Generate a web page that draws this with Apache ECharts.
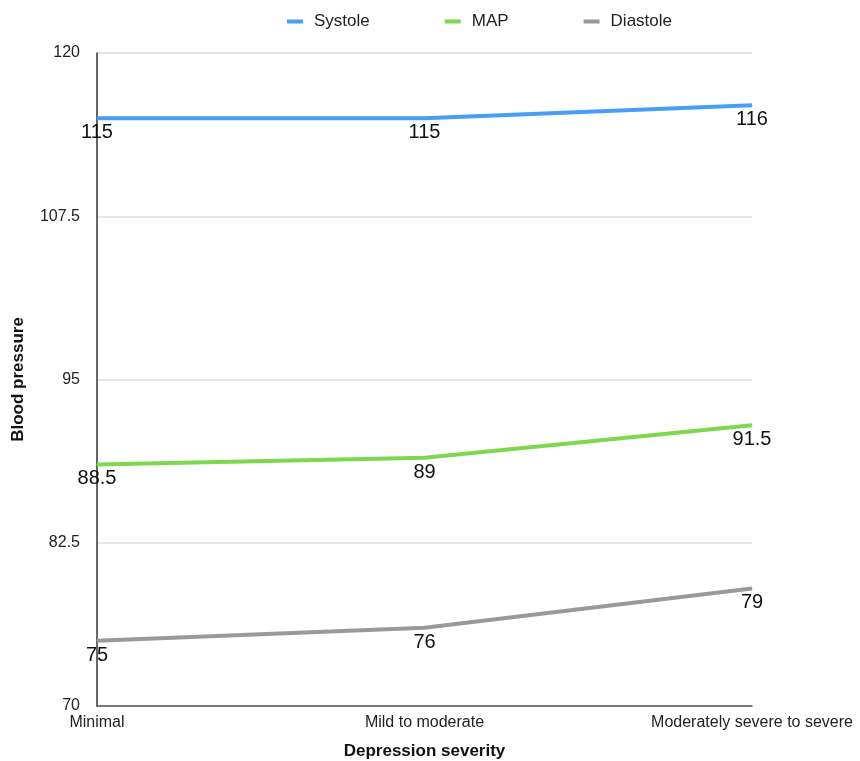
<!DOCTYPE html>
<html>
<head>
<meta charset="utf-8">
<script src="https://cdn.jsdelivr.net/npm/echarts@6/dist/echarts.min.js"></script>
<style>html,body{margin:0;padding:0;background:#fff}#c{width:860px;height:761px}</style>
</head>
<body>
<div id="c"></div>
<script>
var categories = ['Minimal', 'Mild to moderate', 'Moderately severe to severe'];
var systole = [115, 115, 116];
var map = [88.5, 89, 91.5];
var diastole = [75, 76, 79];
var yTicks = [70, 82.5, 95, 107.5, 120];

var FONT = '"Liberation Sans", Arial, Helvetica, sans-serif';
var chart = echarts.init(document.getElementById('c'), null, {renderer: 'canvas'});
var iconPath = 'path://M0,0 L16,0 L16,4 L0,4 Z';
function mk(name, data, color) {
  return {
    name: name, type: 'line', data: data,
    symbol: 'circle', symbolSize: 1, showSymbol: true,
    lineStyle: {color: color, width: 4},
    itemStyle: {color: color},
    label: {show: true, position: 'bottom', distance: 4, color: '#111', fontSize: 20, fontFamily: FONT},
    labelLayout: {hideOverlap: false},
    silent: true
  };
}
chart.setOption({
  animation: false,
  textStyle: {fontFamily: FONT},
  legend: {
    top: 8, left: 282, itemGap: 75, itemWidth: 16, itemHeight: 4,
    textStyle: {fontSize: 17, color: '#222', fontFamily: FONT, padding: [0, 0, 0, 6]},
    data: [{name: 'Systole', icon: iconPath}, {name: 'MAP', icon: iconPath}, {name: 'Diastole', icon: iconPath}]
  },
  grid: {left: 97, right: 108, top: 53, bottom: 55, containLabel: false, outerBoundsMode: 'none'},
  xAxis: {
    type: 'category', data: categories, boundaryGap: false,
    name: 'Depression severity', nameLocation: 'middle', nameGap: 37,
    nameTextStyle: {fontSize: 17, fontWeight: 'bold', color: '#111', fontFamily: FONT},
    axisLine: {lineStyle: {color: '#555', width: 1.5}},
    axisTick: {show: false},
    axisLabel: {fontSize: 16, color: '#222', margin: 9, fontFamily: FONT},
    splitLine: {show: false}
  },
  yAxis: {
    type: 'value', min: yTicks[0], max: yTicks[yTicks.length - 1], interval: yTicks[1] - yTicks[0],
    name: 'Blood pressure', nameLocation: 'middle', nameGap: 70, nameRotate: 90,
    nameTextStyle: {fontSize: 17, fontWeight: 'bold', color: '#111', fontFamily: FONT},
    axisLine: {show: true, lineStyle: {color: '#333', width: 1.5}},
    axisTick: {show: false},
    axisLabel: {fontSize: 16, color: '#222', margin: 17, fontFamily: FONT},
    splitLine: {lineStyle: {color: '#dcdcdc', width: 1.5}}
  },
  series: [
    mk('Systole', systole, '#4a9df5'),
    mk('MAP', map, '#7dd84f'),
    mk('Diastole', diastole, '#999999')
  ]
});
</script>
</body>
</html>
